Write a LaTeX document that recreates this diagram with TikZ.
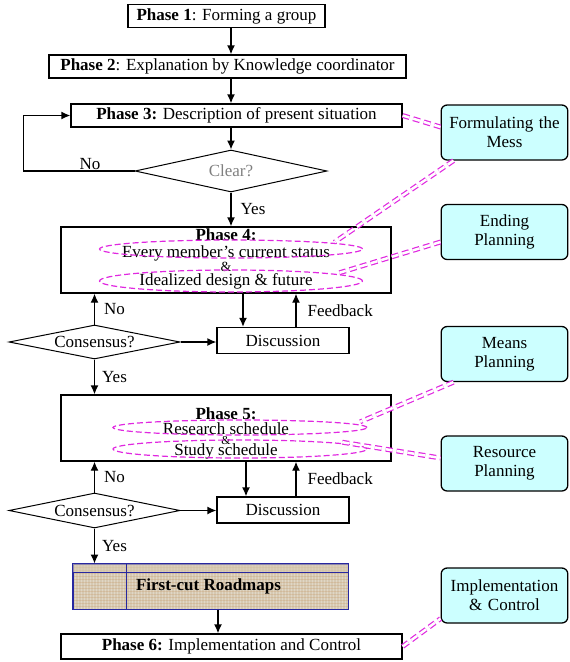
\documentclass[tikz,border=0pt]{standalone}
\usepackage{fontspec}
\setmainfont{Liberation Serif}
\usetikzlibrary{shapes,arrows.meta,positioning,backgrounds}
\definecolor{mess}{RGB}{224,40,224}
\definecolor{plancyan}{RGB}{204,255,255}
\definecolor{burlap}{RGB}{214,201,178}
\definecolor{mapblue}{RGB}{40,40,160}

\begin{document}
\begin{tikzpicture}[x=1pt, y=-1pt,
                   font=\fontsize{17}{19}\selectfont,
                   phase/.style={draw, line width=1.3pt, inner sep=2pt, minimum height=23pt},
                   bigphase/.style={draw, line width=1.3pt, minimum width=330pt, minimum height=66pt},
                   decide/.style={draw, diamond, aspect=4, line width=1pt, inner sep=0pt},
                   discbox/.style={draw, line width=1.3pt, minimum width=132pt, minimum height=26pt},
                   plan/.style={draw, line width=1.3pt, rounded corners=6pt, fill=plancyan, minimum width=125pt, minimum height=55pt, align=center, text width=120pt},
                   flow/.style={line width=1.3pt, -{Latex[length=9pt,width=8pt]}},
                   mesh/.style={draw=mess, ellipse, dash pattern=on 6pt off 3pt, line width=1.2pt, inner sep=0pt},
                   link/.style={mess, dash pattern=on 7pt off 4pt, line width=1.2pt, double=white, double distance=2.5pt},
                   lbl/.style={inner sep=1pt}]
          \useasboundingbox (0,0) rectangle (570,662);
          % main flow
          \node[phase, minimum width=197pt] (p1) at (226.5,16) {\textbf{Phase 1}: Forming a group};
          \node[phase, minimum width=357pt] (p2) at (227.5,66.5) {\textbf{Phase 2}: Explanation by Knowledge coordinator};
          \node[phase, minimum width=331pt] (p3) at (236.5,115.5) {\textbf{Phase 3:} Description of present situation};
          \node[decide, minimum width=192pt, minimum height=42pt, text=gray] (clear) at (231,171) {Clear?};
          \node[bigphase] (p4) at (226,260) {};
          \node[align=center, inner sep=0pt] (p4text) at (226,259) {\textbf{Phase 4:}\\[-2pt] Every member's current status\\[-5pt] {\fontsize{14}{15}\selectfont\&}\\[-5pt] Idealized design \& future};
          \node[mesh, minimum width=263pt, minimum height=18pt] (e1) at (231,249) {};
          \node[mesh, minimum width=263pt, minimum height=22pt] (e2) at (231,281) {};
          \node[decide, minimum width=171pt, minimum height=34pt] (c1) at (94.5,342) {Consensus?};
          \node[discbox] (d1) at (283,340.5) {Discussion};
          \node[bigphase] (p5) at (226,428) {};
          \node[align=center, inner sep=0pt] (p5text) at (226,433) {\textbf{Phase 5:}\\[-4pt] Research schedule\\[-9pt] {\fontsize{12}{13}\selectfont\&}\\[-8pt] Study schedule};
          \node[mesh, minimum width=254pt, minimum height=15pt] (e3) at (240,427.5) {};
          \node[mesh, minimum width=254pt, minimum height=18pt] (e4) at (240,449) {};
          \node[decide, minimum width=171pt, minimum height=35pt] (c2) at (94.5,510.5) {Consensus?};
          \node[discbox] (d2) at (283,510) {Discussion};
          \node[draw=mapblue, line width=1pt, minimum width=275pt, minimum height=45pt,
                font=\fontsize{17}{19}\selectfont\bfseries] (rm) at (210.5,586.5) {\hspace{-4pt}First-cut Roadmaps};
          \begin{scope}[on background layer]
            \fill[burlap] (rm.north west) rectangle (rm.south east);
            \foreach \k in {0,3,...,276} {\draw[white, line width=0.4pt, opacity=0.25] ([xshift=\k pt]rm.south west) -- ([xshift=\k pt]rm.north west);}
            \foreach \k in {0,3,...,45} {\draw[brown, line width=0.4pt, opacity=0.2] ([yshift=\k pt]rm.south west) -- ([yshift=\k pt]rm.south east);}
          \end{scope}
          \fill[burlap, opacity=0.6] (rm.north west) rectangle ([yshift=-9pt]rm.north east);
          \draw[mapblue, line width=1pt] ([yshift=-9pt]rm.north west) -- ([yshift=-9pt]rm.north east);
          \draw[mapblue, line width=1pt] ([xshift=54pt]rm.north west) -- ([xshift=54pt]rm.south west);
          \draw[mapblue, line width=1pt] (rm.north west) rectangle (rm.south east);
          \node[phase, minimum width=341pt, minimum height=25pt] (p6) at (231.5,646.5) {\textbf{Phase 6:} Implementation and Control};
          % planning boxes
          \node[plan] (f1) at (504.5,132.5) {Formulating the\\Mess};
          \node[plan] (f2) at (504.5,232) {Ending\\Planning};
          \node[plan] (f3) at (504.5,354) {Means\\Planning};
          \node[plan] (f4) at (504.5,463.5) {Resource\\Planning};
          \node[plan] (f5) at (504.5,595.5) {Implementation\\\& Control};
          % arrows
          \draw[flow] (p1.south -| clear.north) -- (p2.north -| clear.north);
          \draw[flow] (p2.south -| clear.north) -- (p3.north -| clear.north);
          \draw[flow] (p3.south -| clear.north) -- (clear.north);
          \draw[flow] (clear.south) -- (clear.south |- p4.north) node[lbl, midway, right=8pt] {Yes};
          \draw[flow] (clear.west) -| node[lbl, above, pos=0.2] {No} ([xshift=-47pt]p3.west) -- (p3.west);
          \draw[flow] ([xshift=-40pt]d1.north |- p4.south) -- ([xshift=-40pt]d1.north);
          \draw[flow] ([xshift=13pt]d1.north) -- ([xshift=13pt]d1.north |- p4.south) node[lbl, midway, right=10pt] {Feedback};
          \draw[flow] (c1.north) -- (c1.north |- p4.south) node[lbl, midway, right=8pt] {No};
          \draw[flow] (c1.east) -- (c1.east -| d1.west);
          \draw[flow] (c1.south) -- (c1.south |- p5.north) node[lbl, midway, right=6pt] {Yes};
          \draw[flow] ([xshift=-37pt]d2.north |- p5.south) -- ([xshift=-37pt]d2.north);
          \draw[flow] ([xshift=13pt]d2.north) -- ([xshift=13pt]d2.north |- p5.south) node[lbl, midway, right=10pt] {Feedback};
          \draw[flow] (c2.north) -- (c2.north |- p5.south) node[lbl, midway, right=8pt] {No};
          \draw[flow] (c2.east) -- (c2.east -| d2.west);
          \draw[flow] (c2.south) -- (c2.south |- rm.north) node[lbl, midway, right=6pt] {Yes};
          \draw[flow] ([xshift=7.5pt]rm.south) -- ([xshift=7.5pt]rm.south |- p6.north);
          % links to planning
          \draw[link] (p3.east) -- ([yshift=5.5pt]f1.west);
          \draw[link] ([xshift=13pt]f1.south west) -- ([xshift=10pt]e1.north east);
          \draw[link] ([yshift=-10pt]f2.west) -- ([xshift=15pt]e2.north east);
          \draw[link] ([xshift=13pt]f3.south west) -- ([xshift=30pt]e3.north east);
          \draw[link] ([xshift=12pt]e4.north east) -- ([yshift=5.5pt]f4.west);
          \draw[link] (p6.east) -- ([yshift=5pt]f5.south west);
        \end{tikzpicture}
\end{document}
